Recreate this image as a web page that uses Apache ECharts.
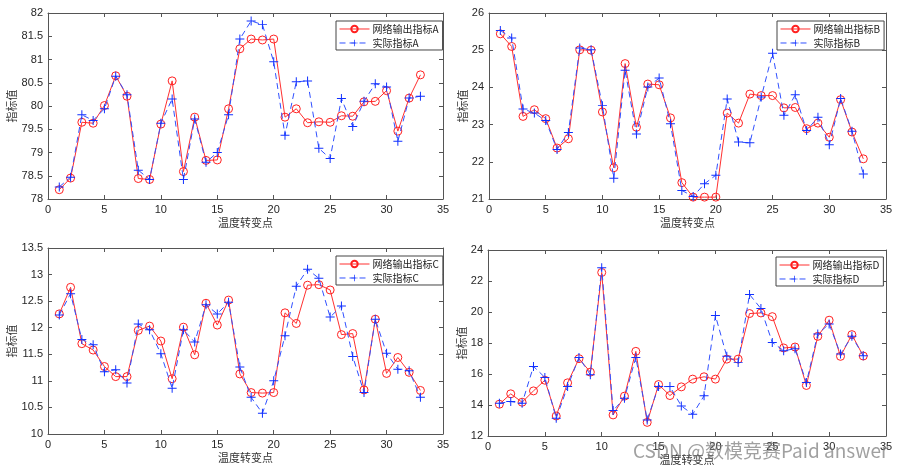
<!DOCTYPE html>
<html>
<head>
<meta charset="utf-8">
<script src="https://cdn.jsdelivr.net/npm/echarts@6/dist/echarts.min.js"></script>
<style>
html,body{margin:0;padding:0;background:#fff;}
#chart{width:909px;height:472px;}
</style>
</head>
<body>
<div id="chart"></div>
<script>
// ---- data ----
const xPoints = [1,2,3,4,5,6,7,8,9,10,11,12,13,14,15,16,17,18,19,20,21,22,23,24,25,26,27,28,29,30,31,32,33];
const xTicks = [0,5,10,15,20,25,30,35];

const netA = [78.20,78.45,79.65,79.63,80.01,80.65,80.21,78.44,78.42,79.61,80.54,78.59,79.76,78.83,78.84,79.94,81.23,81.44,81.42,81.44,79.76,79.94,79.64,79.66,79.65,79.79,79.78,80.09,80.10,80.33,79.46,80.17,80.67];
const actA = [78.26,78.47,79.81,79.69,79.94,80.64,80.24,78.62,78.42,79.63,80.15,78.42,79.72,78.79,79.00,79.81,81.44,81.83,81.75,80.95,79.37,80.52,80.54,79.09,78.87,80.16,79.56,80.10,80.48,80.41,79.24,80.17,80.21];

const netB = [25.44,25.10,23.22,23.40,23.16,22.37,22.62,25.01,25.00,23.34,21.84,24.64,22.93,24.09,24.07,23.18,21.44,21.05,21.05,21.05,23.31,23.04,23.82,23.78,23.78,23.45,23.46,22.89,23.04,22.66,23.67,22.80,22.08];
const actB = [25.53,25.33,23.42,23.31,23.11,22.33,22.79,25.06,25.01,23.51,21.56,24.46,22.75,24.01,24.25,23.02,21.23,21.07,21.41,21.64,23.69,22.53,22.51,23.74,24.92,23.25,23.80,22.84,23.20,22.46,23.70,22.82,21.67];

const netC = [12.26,12.76,11.70,11.58,11.27,11.08,11.08,11.95,12.03,11.75,11.04,12.01,11.49,12.46,12.05,12.52,11.13,10.78,10.77,10.78,12.28,12.08,12.80,12.81,12.71,11.87,11.89,10.83,12.16,11.14,11.44,11.16,10.82];
const actC = [12.24,12.64,11.78,11.68,11.17,11.21,10.96,12.07,11.96,11.51,10.86,11.96,11.73,12.43,12.26,12.48,11.26,10.69,10.39,11.00,11.85,12.78,13.10,12.93,12.20,12.41,11.46,10.78,12.16,11.52,11.22,11.19,10.69];

const netD = [14.05,14.72,14.18,14.91,15.60,13.29,15.43,16.99,16.12,22.55,13.36,14.57,17.46,12.88,15.32,14.61,15.17,15.67,15.82,15.67,16.96,16.96,19.90,19.94,19.70,17.68,17.74,15.26,18.43,19.47,17.14,18.54,17.16];
const actD = [14.11,14.22,14.11,16.49,15.78,13.14,15.19,17.07,15.95,22.86,13.64,14.44,17.07,13.04,15.19,15.19,13.94,13.40,14.59,19.77,17.14,16.75,21.13,20.22,18.04,17.50,17.63,15.45,18.58,19.23,17.29,18.43,17.18];

const yRanges = [[78,82,0.5],[21,26,1],[10,13.5,0.5],[12,24,2]];
const panelLetters = ['A','B','C','D'];
const netSeries = [netA,netB,netC,netD];
const actSeries = [actA,actB,actC,actD];

// ---- layout ----
const grids = [
  {left:48, top:13, width:395, height:186},
  {left:489, top:13, width:397, height:186},
  {left:48, top:248, width:395, height:186},
  {left:488, top:250, width:398, height:186}
];
const legendPos = [
  {left:336, top:21},
  {left:777, top:21},
  {left:336, top:256},
  {left:776, top:257}
];
const yNameGaps = [26, 20, 26, 20];

const axisColor = '#555';
const textColor = '#262626';
const plusPath = 'path://M-0.11,-1H0.11V-0.11H1V0.11H0.11V1H-0.11V0.11H-1V-0.11H-0.11Z';

const xAxes = [], yAxes = [], series = [], legends = [];
grids.forEach((g, i) => {
  const [ymin, ymax, yint] = yRanges[i];
  const common = {
    type:'value', gridIndex:i, min:xTicks[0], max:xTicks[xTicks.length-1], interval:5,
    splitLine:{show:false},
    axisLine:{show:true, onZero:false, lineStyle:{color:axisColor, width:1}},
    axisTick:{show:true, inside:true, length:4, lineStyle:{color:axisColor}}
  };
  xAxes.push(Object.assign({}, common, {
    position:'bottom',
    name:'温度转变点', nameLocation:'middle', nameGap:18,
    nameTextStyle:{fontFamily:'Noto Sans CJK SC', fontSize:11, color:'#333'},
    axisLabel:{show:true, margin:5, fontFamily:'Liberation Sans, Arial', fontSize:11, color:textColor}
  }));
  xAxes.push(Object.assign({}, common, {position:'top', axisLabel:{show:false}}));
  const ycommon = {
    type:'value', gridIndex:i, min:ymin, max:ymax, interval:yint,
    splitLine:{show:false},
    axisLine:{show:true, onZero:false, lineStyle:{color:axisColor, width:1}},
    axisTick:{show:true, inside:true, length:4, lineStyle:{color:axisColor}}
  };
  yAxes.push(Object.assign({}, ycommon, {
    position:'left',
    name:'指标值', nameLocation:'middle', nameRotate:90, nameGap:yNameGaps[i],
    nameTextStyle:{fontFamily:'Noto Sans CJK SC', fontSize:11, color:'#333'},
    axisLabel:{show:true, margin:5, fontFamily:'Liberation Sans, Arial', fontSize:11, color:textColor}
  }));
  yAxes.push(Object.assign({}, ycommon, {position:'right', axisLabel:{show:false}}));

  const nName = '网络输出指标' + panelLetters[i];
  const aName = '实际指标' + panelLetters[i];
  series.push({
    name:nName, type:'line', xAxisIndex:2*i, yAxisIndex:2*i,
    data:xPoints.map((x, k) => [x, netSeries[i][k]]),
    symbol:'circle', symbolSize:8,
    itemStyle:{color:'rgba(255,255,255,0)', borderColor:'#ff2020', borderWidth:1},
    lineStyle:{color:'#ff3030', width:1},
    emphasis:{disabled:true}, animation:false, z:2
  });
  series.push({
    name:aName, type:'line', xAxisIndex:2*i, yAxisIndex:2*i,
    data:xPoints.map((x, k) => [x, actSeries[i][k]]),
    symbol:plusPath, symbolSize:9,
    itemStyle:{color:'#1030ff'},
    lineStyle:{color:'#3050ff', width:1, type:[6,4]},
    emphasis:{disabled:true}, animation:false, z:3
  });
  legends.push({
    data:[nName, aName],
    left:legendPos[i].left, top:legendPos[i].top,
    orient:'vertical', itemWidth:30, itemHeight:8, itemGap:4,
    padding:[3,4,2,3], borderColor:'#444', borderWidth:1, backgroundColor:'#fff',
    selectedMode:false,
    lineStyle:{width:1},
    textStyle:{fontFamily:'Noto Sans CJK SC', fontSize:10, color:'#222', padding:[0,0,0,-2]}
  });
});

const chart = echarts.init(document.getElementById('chart'), null, {renderer:'canvas'});
chart.setOption({
  animation:false,
  backgroundColor:'#fff',
  grid:grids,
  xAxis:xAxes,
  yAxis:yAxes,
  legend:legends,
  series:series,
  graphic:[{
    type:'text', left:633, top:441, silent:true, z:100,
    style:{text:'CSDN @数模竞赛Paid answer', font:'19px "Noto Sans CJK SC", sans-serif', fill:'rgba(120,120,120,0.7)'}
  }]
});
</script>
</body>
</html>
